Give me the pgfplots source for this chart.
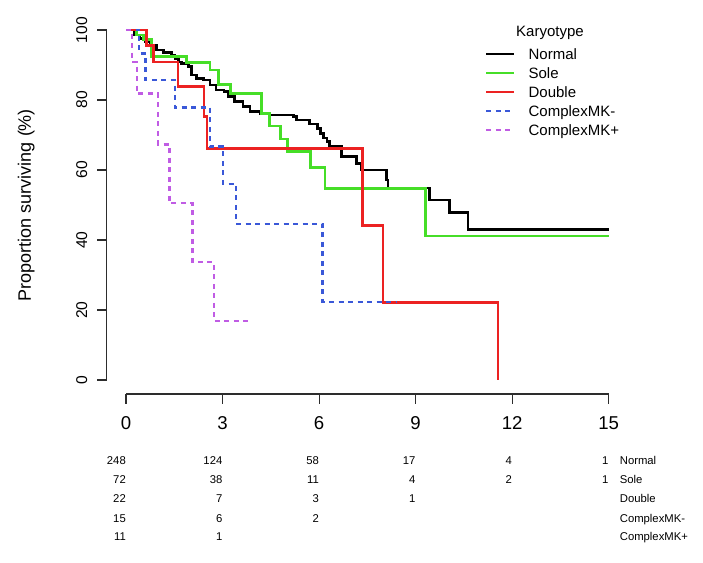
\documentclass[border=0pt]{standalone}
\usepackage{fontspec}
\setmainfont{Liberation Sans}
\usepackage{pgfplots}
\pgfplotsset{compat=1.18}

\definecolor{knormal}{RGB}{0,0,0}
\definecolor{ksole}{RGB}{70,222,40}
\definecolor{kdouble}{RGB}{236,34,34}
\definecolor{kmkneg}{RGB}{58,88,216}
\definecolor{kmkpos}{RGB}{192,92,228}
\definecolor{axgray}{RGB}{45,45,45}

\begin{document}
\begin{tikzpicture}
\useasboundingbox (0,0) rectangle (703pt,562pt);
\begin{axis}[
  at={(106.7pt,168pt)}, anchor=south west,
  scale only axis, width=521.3pt, height=378pt,
  xmin=-0.6, xmax=15.6, ymin=-4, ymax=104,
  axis x line*=bottom, axis y line*=left,
  axis line style={draw=none},
  xtick={0,3,...,15}, ytick={0,20,...,100},
  minor tick num=0,
  tick align=outside, major tick length=9.5pt,
  tick style={axgray, line width=1.1pt},
  /pgf/number format/assume math mode=true,
  xticklabel style={font=\fontsize{18.6}{22}\selectfont, anchor=base, yshift=-26pt},
  yticklabel style={font=\fontsize{15.6}{19}\selectfont, xshift=-10pt, rotate=90, anchor=base},
  clip=false,
  legend cell align=left,
  legend style={at={(0.7257,0.9143)}, anchor=north west, draw=none, fill=none,
    font=\fontsize{15}{18}\selectfont, inner sep=0pt, outer sep=0pt,
    row sep=5pt, column sep=13pt,
    nodes={inner sep=0pt, text height=11pt, text depth=3pt, anchor=base west}},
  legend image code/.code={\draw[#1, line width=2.6pt] (0pt,5.4pt) -- (28pt,5.4pt);},
]
% Kaplan-Meier curves (time in years, survival in %)
\addplot[knormal, line width=2.6pt, const plot] coordinates {
  (0,100) (0.26,98.6) (0.44,97.5) (0.59,96.7) (0.75,95.7) (0.95,94.3)
  (1.16,93.5) (1.42,92.7) (1.52,91.9) (1.63,90.9) (1.73,90.5) (1.94,89.5)
  (2.04,87.1) (2.19,86.2) (2.40,85.7) (2.61,84.3) (2.80,82.9) (3.05,82.4)
  (3.18,81.0) (3.38,79.5) (3.64,78.1) (3.85,76.7) (4.16,76.2) (4.47,75.7)
  (5.20,75.2) (5.30,74.3) (5.71,73.1) (5.95,71.9) (6.05,70.5) (6.13,69.1)
  (6.25,68.1) (6.33,66.8) (6.70,63.8) (7.16,61.9) (7.32,60.0) (8.09,57.1)
  (8.14,54.8) (9.44,51.4) (10.06,47.8) (10.63,43.0) (15,43.0)
};
\addlegendentry{Normal}
\addplot[ksole, line width=2.6pt, const plot] coordinates {
  (0,100) (0.33,98.6) (0.55,97.2) (0.80,92.4) (1.88,90.7) (2.61,88.6)
  (2.87,84.5) (3.25,81.8) (4.21,76.2) (4.45,72.6) (4.80,68.8) (5.01,65.2)
  (5.74,60.7) (6.18,54.7) (9.30,41.1) (15,41.1)
};
\addlegendentry{Sole}
\addplot[kdouble, line width=2.6pt, const plot] coordinates {
  (0,100) (0.64,95.5) (0.85,90.9) (1.62,83.8) (2.42,75.2) (2.52,66.2)
  (7.34,44.2) (7.99,22.1) (11.56,0)
};
\addlegendentry{Double}
\addplot[kmkneg, line width=2.4pt, dash pattern=on 5pt off 4.5pt, const plot] coordinates {
  (0,100) (0.41,93.3) (0.61,85.7) (1.52,77.9) (2.61,66.7) (3.02,56.0)
  (3.42,44.6) (6.11,22.3) (8.41,22.3)
};
\addlegendentry{ComplexMK-}
\addplot[kmkpos, line width=2.4pt, dash pattern=on 5pt off 4.5pt, const plot] coordinates {
  (0,100) (0.18,90.9) (0.34,81.8) (1.00,67.3) (1.35,50.5) (2.07,33.7)
  (2.74,16.8) (3.93,16.8)
};
\addlegendentry{ComplexMK+}

% numbers at risk
\addplot[forget plot, draw=none, mark=none, nodes near coords, point meta=explicit symbolic,
  nodes near coords style={font=\fontsize{11.3}{13}\selectfont, anchor=base east, inner sep=0pt}]
  table[meta=n] {
x y n
0 -24.0 248
3 -24.0 124
6 -24.0 58
9 -24.0 17
12 -24.0 4
15 -24.0 1
0 -29.5 72
3 -29.5 38
6 -29.5 11
9 -29.5 4
12 -29.5 2
15 -29.5 1
0 -35.1 22
3 -35.1 7
6 -35.1 3
9 -35.1 1
0 -40.7 15
3 -40.7 6
6 -40.7 2
0 -45.9 11
3 -45.9 1
};
\addplot[forget plot, draw=none, mark=none, nodes near coords, point meta=explicit symbolic,
  nodes near coords style={font=\fontsize{11.3}{13}\selectfont, anchor=base west, inner sep=0pt}]
  table[meta=g] {
x y g
15.34 -24.0 Normal
15.34 -29.5 Sole
15.34 -35.1 Double
15.34 -40.7 ComplexMK-
15.34 -45.9 ComplexMK+
};

\draw[axgray, line width=1.1pt] (axis cs:0,-4) -- (axis cs:15,-4);
\draw[axgray, line width=1.1pt] (axis cs:-0.6,0) -- (axis cs:-0.6,100);
\end{axis}
\node[font=\fontsize{15}{18}\selectfont, anchor=base] at (550pt,525.6pt) {Karyotype};
\node[font=\fontsize{18}{22}\selectfont, rotate=90, anchor=base] at (31pt,357pt) {Proportion surviving (\%)};
\end{tikzpicture}
\end{document}
